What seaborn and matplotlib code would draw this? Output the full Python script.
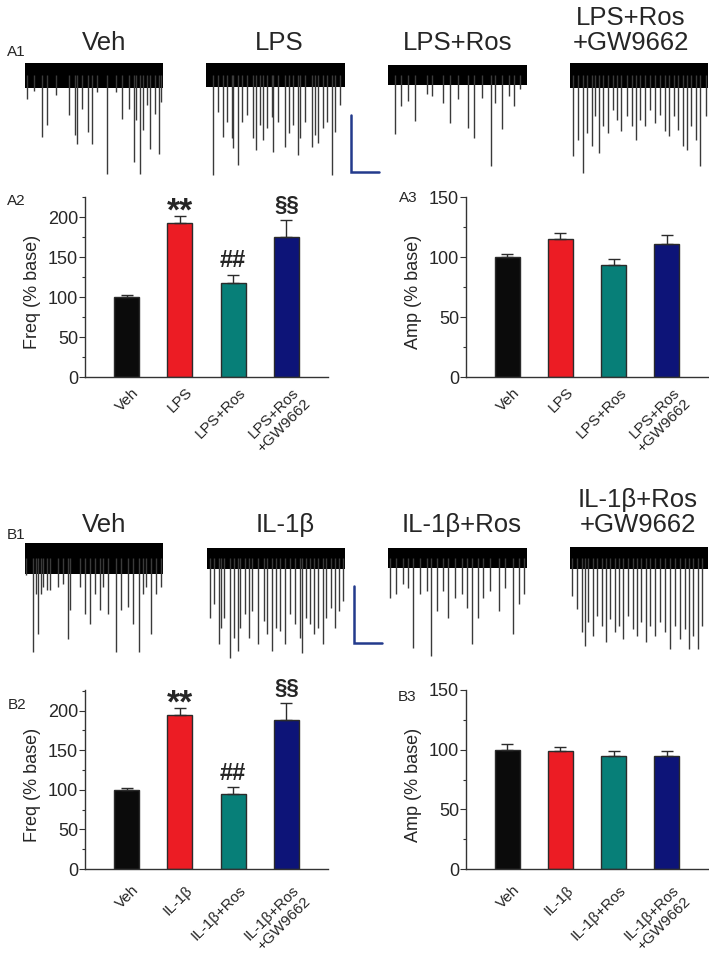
import numpy as np
import pandas as pd
import seaborn as sns
import matplotlib.pyplot as plt
from matplotlib.ticker import MultipleLocator
from matplotlib.transforms import ScaledTranslation

# ---- bar data (% of baseline, mean and SEM) ----
cats_A = ['Veh', 'LPS', 'LPS+Ros', 'LPS+Ros\n+GW9662']
freq_A = [100, 193, 117, 175]
freq_A_err = [3, 8.5, 11, 21]
amp_A = [100, 115, 93, 111]
amp_A_err = [2.5, 5, 5, 7]
sig_A = ['', '**', '##', '§§']

cats_B = ['Veh', 'IL-1β', 'IL-1β+Ros', 'IL-1β+Ros\n+GW9662']
freq_B = [100, 194, 94.5, 188]
freq_B_err = [2, 9, 9.5, 21.5]
amp_B = [100, 99, 95, 95]
amp_B_err = [5, 3, 4, 4]
sig_B = ['', '**', '##', '§§']

bar_colors = ['#0b0b0b', '#ec1c24', '#077f78', '#0d1478']

# ---- example traces: event times (s) and event amplitudes (pA, downward) ----
evt_t_A = [
    [0.12, 0.65, 1.2, 1.57, 2.24, 3.2, 3.6, 3.78, 4.1, 4.53, 4.87, 5.23, 5.95, 6.63,
     7.06, 7.54, 7.9, 8.07, 8.36, 8.55, 8.84, 9.08, 9.4, 9.71, 9.88],
    [0.53, 0.89, 1.2, 1.49, 1.85, 1.97, 2.28, 2.57, 2.93, 3.4, 3.6, 3.88, 4.12, 4.36,
     4.72, 4.84, 5.2, 5.68, 6.0, 6.28, 6.64, 6.76, 7.12, 7.6, 7.84, 8.08, 8.44, 8.68,
     9.04, 9.28, 9.64],
    [0.48, 0.9, 1.45, 1.93, 2.77, 3.13, 3.93, 4.46, 5.06, 5.73, 6.22, 6.75, 7.42, 7.71,
     8.19, 8.67, 9.04, 9.52],
    [0.24, 0.6, 0.96, 1.25, 1.57, 1.81, 2.12, 2.41, 2.77, 3.13, 3.37, 3.73, 4.1, 4.46,
     4.77, 5.06, 5.42, 5.78, 6.14, 6.51, 6.87, 7.18, 7.52, 7.83, 8.19, 8.48, 8.79, 9.16,
     9.45, 9.84],
]
evt_amp_A = [
    [24, 16, 62, 50, 20, 40, 60, 69, 34, 57, 69, 17, 99, 17, 44, 34, 87, 45, 99, 55,
     30, 74, 39, 79, 27],
    [100, 37, 62, 47, 63, 73, 90, 47, 40, 63, 75, 50, 65, 53, 42, 77, 47, 72, 58, 50,
     80, 63, 47, 72, 60, 68, 53, 47, 100, 57, 30],
    [59, 31, 26, 46, 19, 21, 28, 48, 24, 53, 63, 23, 91, 28, 54, 21, 31, 14],
    [81, 65, 98, 58, 71, 41, 78, 51, 58, 35, 45, 56, 41, 51, 65, 45, 51, 35, 48, 40,
     56, 61, 41, 55, 71, 75, 51, 65, 91, 41],
]
noise_A = [12.5, 12, 10, 12.5]

evt_t_B = [
    [0.07, 0.6, 0.79, 0.96, 1.13, 1.33, 1.57, 1.81, 2.41, 2.77, 3.08, 3.25, 3.98, 4.34,
     4.7, 5.06, 5.42, 5.66, 6.02, 6.63, 6.99, 7.47, 7.83, 8.27, 8.55, 8.8, 9.16, 9.52, 9.83],
    [0.19, 0.48, 0.84, 1.01, 1.2, 1.69, 1.93, 2.22, 2.41, 2.77, 3.01, 3.25, 3.73, 4.1,
     4.34, 4.7, 5.01, 5.3, 5.66, 6.02, 6.39, 6.75, 6.87, 7.18, 7.47, 7.76, 8.07, 8.39,
     8.63, 8.96, 9.28, 9.6, 9.84],
    [0.12, 0.6, 1.08, 1.45, 1.81, 2.29, 2.77, 3.08, 3.49, 3.98, 4.34, 4.82, 5.3, 5.66,
     6.02, 6.51, 6.87, 7.35, 7.95, 8.43, 8.99, 9.4, 9.76],
    [0.12, 0.48, 0.84, 1.08, 1.33, 1.69, 1.98, 2.29, 2.6, 2.89, 3.25, 3.57, 3.86, 4.22,
     4.53, 4.87, 5.18, 5.54, 5.78, 6.14, 6.51, 6.87, 7.23, 7.59, 7.95, 8.31, 8.63, 8.92,
     9.28, 9.59],
]
evt_amp_B = [
    [17, 94, 36, 76, 36, 29, 32, 32, 29, 26, 81, 52, 29, 56, 66, 36, 52, 29, 56, 94,
     52, 49, 66, 94, 36, 29, 76, 36, 29],
    [60, 46, 86, 70, 60, 100, 80, 93, 70, 56, 80, 53, 86, 63, 76, 93, 70, 73, 86, 56,
     66, 80, 95, 60, 66, 76, 70, 86, 60, 50, 70, 53, 43],
    [40, 36, 26, 30, 90, 36, 33, 98, 53, 33, 60, 40, 36, 50, 86, 60, 40, 33, 53, 30,
     76, 46, 36],
    [38, 51, 74, 88, 64, 78, 58, 68, 84, 61, 74, 68, 81, 58, 71, 78, 64, 84, 68, 78,
     64, 74, 91, 68, 81, 71, 91, 78, 91, 68],
]
noise_B = [15.5, 10.5, 10, 11]

scale_s = 2
scale_pA = 57

sns.set_style('ticks')
plt.rcParams['font.family'] = ['Liberation Sans', 'DejaVu Sans']

W, H = 709, 959
fig = plt.figure(figsize=(W / 100, H / 100), dpi=100)


def px_axes(left, top, right, bottom):
    return fig.add_axes([left / W, 1 - bottom / H, (right - left) / W, (bottom - top) / H])


def draw_trace(ax, t, amp, noise, title, title_x, pad):
    ax.fill_between([0, 10], -noise, noise, color='black', lw=0)
    ax.vlines(t, [-a for a in amp], 0, color='#3a3a3a', lw=1.0)
    ax.set_xlim(0, 10)
    ax.set_ylim(-105, 20)
    ax.axis('off')
    ax.set_title(title, x=title_x, pad=pad, fontsize=18.5, linespacing=1.05)


def draw_scale(ax, t0, y0):
    ax.plot([t0, t0, t0 + scale_s], [y0 + scale_pA, y0, y0], color='#233a8c',
            lw=1.8, clip_on=False, solid_joinstyle='miter')


def draw_bars(ax, cats, vals, errs, ymax, ylabel, sig, xpad):
    df = pd.DataFrame({'cond': cats, 'val': vals})
    sns.barplot(data=df, x='cond', y='val', hue='cond', palette=bar_colors,
                legend=False, width=0.47, saturation=1, edgecolor='#2b2b2b',
                linewidth=1, ax=ax)
    ax.errorbar(range(len(cats)), vals, yerr=[np.zeros(len(errs)), errs], fmt='none',
                ecolor='#2b2b2b', elinewidth=1, capsize=4.5, capthick=1, zorder=1)
    ax.set_xlim(-0.78, 3.78)
    ax.set_ylim(0, ymax)
    sns.despine(ax=ax)
    for s in ['left', 'bottom']:
        ax.spines[s].set_color('#333333')
        ax.spines[s].set_linewidth(1)
    ax.yaxis.set_major_locator(MultipleLocator(50))
    ax.yaxis.set_minor_locator(MultipleLocator(25))
    ax.tick_params(axis='y', which='major', length=4, width=0.8, pad=1,
                   labelsize=13, color='#333333')
    ax.tick_params(axis='y', which='minor', length=2.5, width=0.8, color='#333333')
    ax.set_xticks(range(len(cats)))
    ax.set_xticklabels(cats, rotation=45, ha='right', va='top',
                       rotation_mode='anchor', fontsize=11)
    ax.tick_params(axis='x', length=0, pad=xpad)
    shift = ScaledTranslation(4 / 72, 0, fig.dpi_scale_trans)
    for lab in ax.get_xticklabels():
        lab.set_transform(lab.get_transform() + shift)
    ax.set_xlabel('')
    ax.set_ylabel(ylabel, fontsize=13)
    ax.yaxis.set_label_coords(-0.18, 0.47)
    sig_style = {'**': (24, -6), '##': (17, 9), '§§': (16, 12)}
    for i, s in enumerate(sig):
        if s:
            size, off = sig_style[s]
            ax.text(i, vals[i] + errs[i] + off, s, ha='center', va='baseline',
                    fontsize=size, fontweight='bold', clip_on=False)


# ---- row A ----
trace_x_A = [(25, 163), (206, 345), (388, 527), (570, 708)]
title_x_A = [0.57, 0.53, 0.50, 0.44]
trace_axes_A = []
for i in range(4):
    ax = px_axes(trace_x_A[i][0], 55, trace_x_A[i][1], 180)
    draw_trace(ax, evt_t_A[i], evt_amp_A[i], noise_A[i], cats_A[i], title_x_A[i], 1.5)
    trace_axes_A.append(ax)
draw_scale(trace_axes_A[1], 10.43, -97)

ax = px_axes(85, 197, 328, 377)
draw_bars(ax, cats_A, freq_A, freq_A_err, 225, 'Freq (% base)', sig_A, 6)
ax = px_axes(466, 197, 708, 377)
draw_bars(ax, cats_A, amp_A, amp_A_err, 150, 'Amp (% base)', ['', '', '', ''], 6)

# ---- row B ----
trace_x_B = [(25, 163), (207, 345), (388, 527), (570, 708)]
title_x_B = [0.57, 0.565, 0.53, 0.49]
trace_axes_B = []
for i in range(4):
    ax = px_axes(trace_x_B[i][0], 538, trace_x_B[i][1], 663)
    draw_trace(ax, evt_t_B[i], evt_amp_B[i], noise_B[i], cats_B[i], title_x_B[i], 4.3)
    trace_axes_B.append(ax)
draw_scale(trace_axes_B[1], 10.65, -85)

ax = px_axes(85, 690, 328, 869)
draw_bars(ax, cats_B, freq_B, freq_B_err, 226, 'Freq (% base)', sig_B, 10)
ax = px_axes(466, 690, 708, 869)
draw_bars(ax, cats_B, amp_B, amp_B_err, 150, 'Amp (% base)', ['', '', '', ''], 10)

# panel labels
for lab, x, y in [('A1', 16, 52), ('A2', 16, 201), ('A3', 408, 198),
                  ('B1', 16, 535), ('B2', 17, 705), ('B3', 407, 697)]:
    fig.text(x / W, 1 - y / H, lab, ha='center', va='center', fontsize=11)

fig.savefig('out.png', dpi=100, facecolor='white')
